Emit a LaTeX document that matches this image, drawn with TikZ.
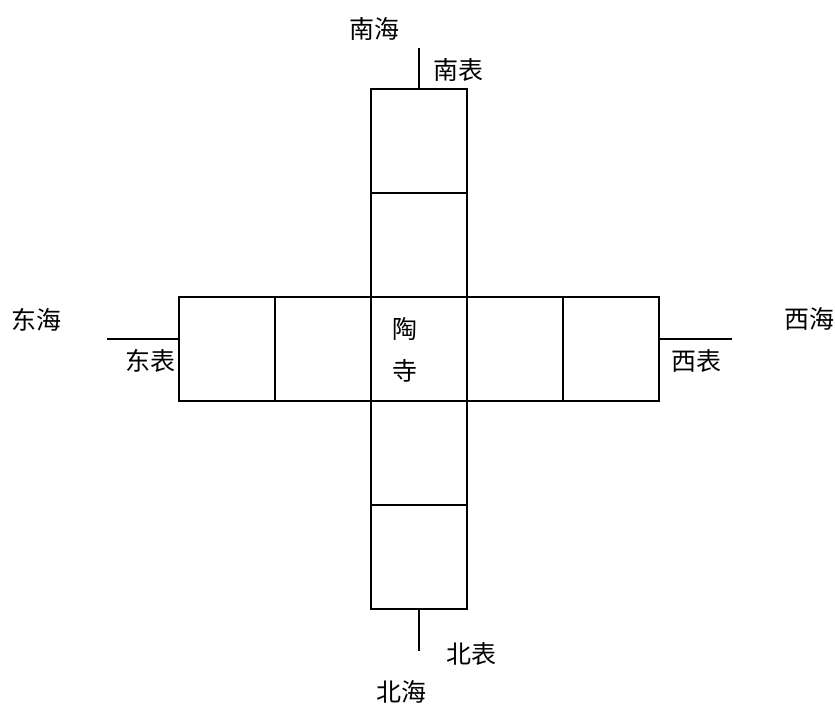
\documentclass[tikz,border=0pt]{standalone}
\usepackage{fontspec}
\newfontfamily\cjk{Noto Sans CJK SC}
\tikzset{
  cell/.style={draw, line width=1.6pt},
  lbl/.style={font=\cjk\fontsize{25}{28}\selectfont, inner sep=0pt},
  tick/.style={line width=1.6pt}
}
\begin{document}
\begin{tikzpicture}[x=1pt,y=-1pt]
\useasboundingbox (0,0) rectangle (835,704);
% vertical column
\draw[cell] (371,89) rectangle (467,193);
\draw[cell] (371,193) rectangle (467,297);
\draw[cell] (371,401) rectangle (467,505);
\draw[cell] (371,505) rectangle (467,609);
% horizontal row
\draw[cell] (179,297) rectangle (275,401);
\draw[cell] (275,297) rectangle (371,401);
\draw[cell] (467,297) rectangle (563,401);
\draw[cell] (563,297) rectangle (659,401);
\node[cell, minimum width=96pt, minimum height=104pt, inner sep=0pt] (c) at (419,349) {};
% ticks
\coordinate (tn) at (419,89); \coordinate (tn2) at (419,48);
\coordinate (ts) at (419,609); \coordinate (ts2) at (419,651);
\coordinate (te) at (179,339); \coordinate (te2) at (107,339);
\coordinate (tw) at (659,339); \coordinate (tw2) at (732,339);
\draw[tick] (tn) -- (tn2);
\draw[tick] (ts) -- (ts2);
\draw[tick] (te) -- (te2);
\draw[tick] (tw) -- (tw2);
% labels
\node[lbl] (nh) at (374,29) {南海};
\node[lbl] (nb) at (458,70) {南表};
\node[lbl] (dh) at (37,320) {东海};
\node[lbl] (db) at (150,361) {东表};
\node[lbl] (xh) at (809,319) {西海};
\node[lbl] (xb) at (696,361) {西表};
\node[lbl] (bb) at (471,654) {北表};
\node[lbl] (bh) at (401,692) {北海};
\node[lbl] (t1) at (405,329) {陶};
\node[lbl] (t2) at (405,371) {寺};
\end{tikzpicture}
\end{document}
